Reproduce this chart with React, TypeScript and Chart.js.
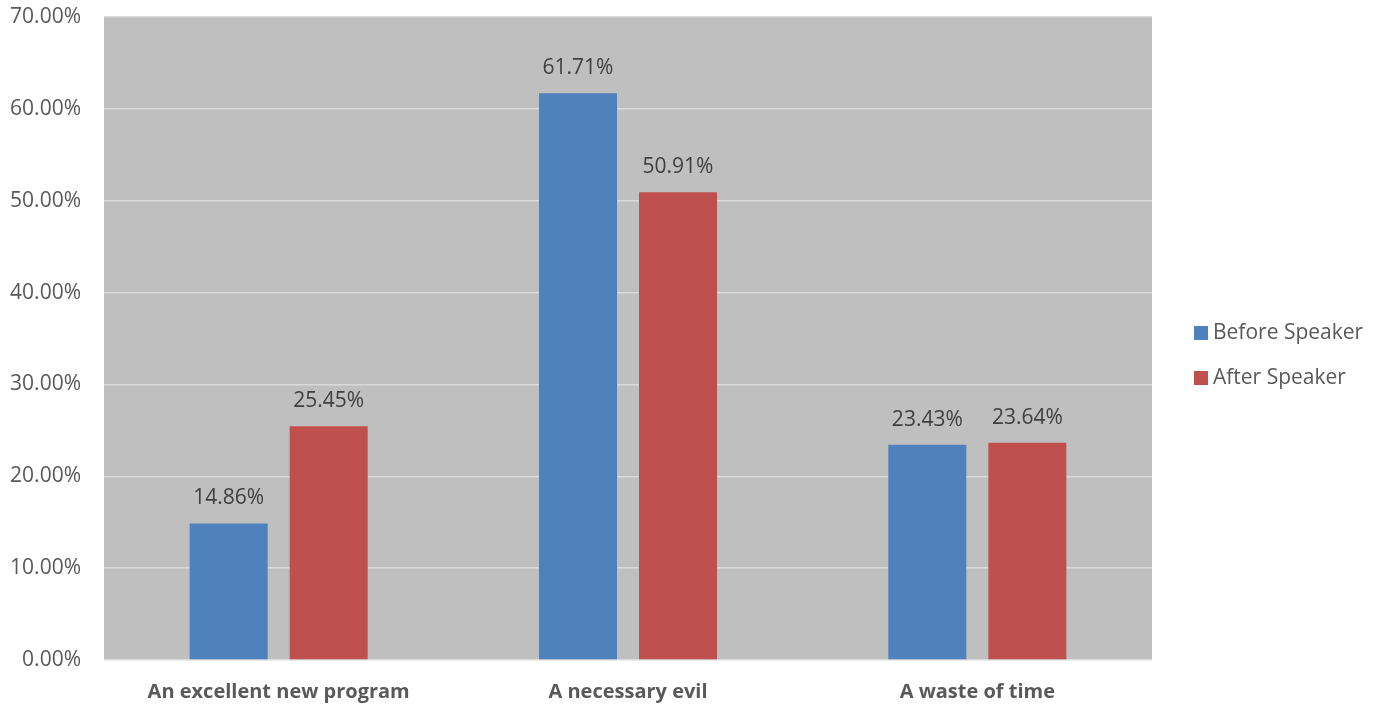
import React, { useEffect, useRef } from "react";
import { Chart, registerables } from "chart.js";

Chart.register(...registerables);

const categories = ["An excellent new program", "A necessary evil", "A waste of time"];
const beforeSpeaker = [14.86, 61.71, 23.43];
const afterSpeaker = [25.45, 50.91, 23.64];
const seriesNames = ["Before Speaker", "After Speaker"];
const seriesColors = ["#4F81BD", "#C0504D"];

const FONT = "'Open Sans', 'Liberation Sans', sans-serif";

const bgPlugin = {
  id: "plotBg",
  beforeDraw(chart: any) {
    const { ctx, chartArea } = chart;
    ctx.save();
    ctx.fillStyle = "#BFBFBF";
    ctx.fillRect(chartArea.left, chartArea.top, chartArea.right - chartArea.left, chartArea.bottom - chartArea.top);
    ctx.restore();
  },
};

const labelPlugin = {
  id: "valueLabels",
  afterDatasetsDraw(chart: any) {
    const { ctx } = chart;
    ctx.save();
    ctx.font = `21px ${FONT}`;
    ctx.fillStyle = "#404040";
    ctx.textAlign = "center";
    ctx.textBaseline = "middle";
    chart.data.datasets.forEach((ds: any, i: number) => {
      const meta = chart.getDatasetMeta(i);
      meta.data.forEach((bar: any, j: number) => {
        ctx.fillText(ds.data[j].toFixed(2) + "%", bar.x, bar.y - 25);
      });
    });
    ctx.restore();
  },
};

const legendPlugin = {
  id: "customLegend",
  afterDraw(chart: any) {
    const { ctx } = chart;
    ctx.save();
    ctx.font = `21px ${FONT}`;
    ctx.textBaseline = "middle";
    ctx.textAlign = "left";
    chart.data.datasets.forEach((ds: any, i: number) => {
      const y = 333 + i * 45;
      ctx.fillStyle = ds.backgroundColor;
      ctx.fillRect(1194, y - 7, 14, 14);
      ctx.fillStyle = "#595959";
      ctx.fillText(ds.label, 1213, y);
    });
    ctx.restore();
  },
};

export default function App() {
  const ref = useRef<HTMLCanvasElement>(null);
  useEffect(() => {
    if (!ref.current) return;
    const chart = new Chart(ref.current, {
      type: "bar",
      data: {
        labels: categories,
        datasets: [
          { label: seriesNames[0], data: beforeSpeaker, backgroundColor: seriesColors[0] },
          { label: seriesNames[1], data: afterSpeaker, backgroundColor: seriesColors[1] },
        ],
      },
      options: {
        animation: false,
        responsive: false,
        layout: { padding: { top: 17, right: 225, left: 0, bottom: 0 } },
        plugins: { legend: { display: false }, tooltip: { enabled: false } },
        datasets: { bar: { categoryPercentage: 0.5726, barPercentage: 0.78 } },
        scales: {
          x: {
            grid: { display: false },
            border: { display: false },
            ticks: { font: { family: FONT, size: 20, weight: "bold" }, color: "#595959", padding: 12 },
            afterFit(scale: any) {
              scale.height = 46;
              scale.paddingLeft = 0;
              scale.paddingRight = 0;
            },
          },
          y: {
            min: 0,
            max: 70,
            grid: { color: "#D9D9D9", lineWidth: 1.5, drawTicks: false },
            border: { display: false },
            ticks: {
              stepSize: 10,
              padding: 23,
              font: { family: FONT, size: 21 },
              color: "#595959",
              callback: (v: any) => Number(v).toFixed(2) + "%",
            },
            afterFit(scale: any) {
              scale.width = 104;
              scale.paddingTop = 0;
              scale.paddingBottom = 0;
            },
          },
        },
      } as any,
      plugins: [bgPlugin, labelPlugin, legendPlugin],
    });
    return () => chart.destroy();
  }, []);
  return (
    <div style={{ position: "fixed", left: 0, top: 0, width: 1377, height: 706, background: "#fff" }}>
      <canvas ref={ref} width={1377} height={706} style={{ display: "block" }} />
    </div>
  );
}
